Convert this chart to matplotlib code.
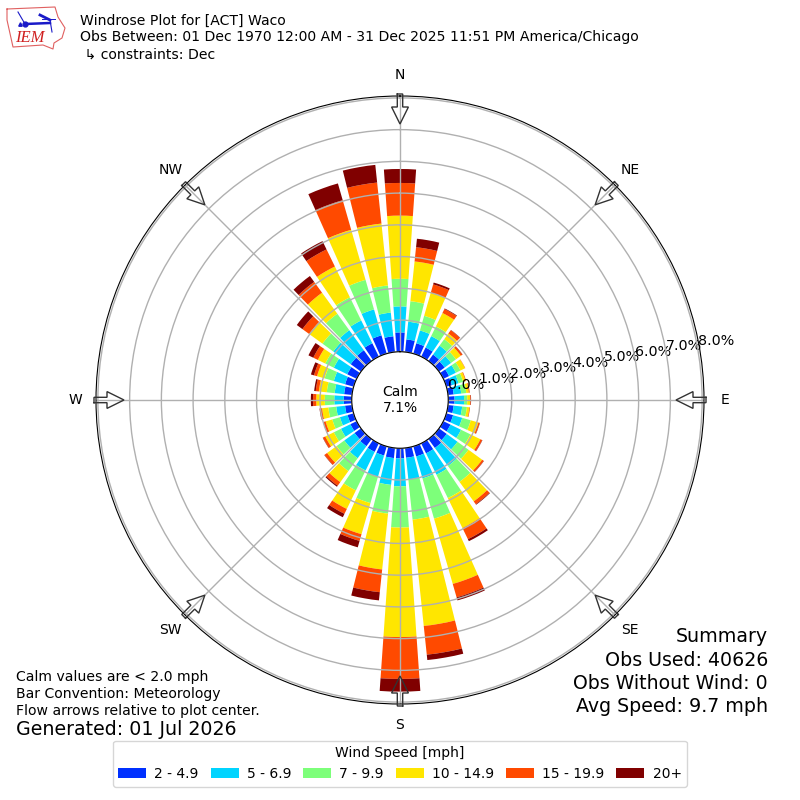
import numpy as np
import matplotlib
matplotlib.use('Agg')
import matplotlib.pyplot as plt

### direction bins, every 10 degrees starting at north
directions = np.arange(0, 360, 10)
dir_names = ['N', 'NE', 'E', 'SE', 'S', 'SW', 'W', 'NW']
dir_angles = [0, 45, 90, 135, 180, 225, 270, 315]

### percent of obs per speed bin
speed_labels = ['2 - 4.9', '5 - 6.9', '7 - 9.9', '10 - 14.9', '15 - 19.9', '20+']
speed_colors = ['#0030ff', '#00d4ff', '#7dff7a', '#ffe600', '#ff4a00', '#800000']

s2 = [.61, .40, .34, .32, .25, .22, .20, .18, .18, .20, .18, .22, .25, .30, .35, .35, .33, .31,
      .32, .32, .30, .30, .28, .25, .22, .20, .22, .25, .25, .28, .33, .40, .42, .47, .60, .50]
s5 = [.82, .56, .42, .40, .35, .25, .24, .22, .24, .30, .27, .30, .37, .42, .70, .75, .72, .69,
      .88, .85, .70, .65, .47, .40, .33, .25, .28, .30, .30, .37, .47, .68, .78, .80, .85, .75]
s7 = [.87, .65, .48, .34, .25, .19, .16, .15, .16, .10, .15, .28, .33, .43, .62, .82, 1.32, 1.27,
      1.30, .91, .86, .70, .50, .30, .25, .25, .25, .30, .25, .30, .30, .42, .64, .81, .97, .86]
s10 = [1.99, 1.26, .76, .47, .22, .19, .16, .08, .08, .09, .08, .25, .35, .53, .76, 1.05, 2.14, 3.37,
       3.45, 1.77, 1.02, .65, .43, .37, .30, .22, .20, .27, .25, .25, .26, .52, .82, 1.08, 1.64, 1.96]
s15 = [1.03, .45, .27, .14, .13, .06, .01, .02, .03, .02, .02, .04, .06, .06, .11, .39, .44, .91,
       1.32, .72, .22, .17, .14, .10, .08, .08, .07, .10, .10, .10, .16, .26, .42, .60, .97, 1.30]
s20 = [.44, .27, .06, .02, .01, .01, 0, 0, 0, .01, 0, .01, .01, .01, .02, .07, .10, .17,
       .40, .26, .21, .12, .04, .01, .01, 0, .01, .07, .05, .10, .17, .22, .23, .29, .55, .56]
speed_bins = [s2, s5, s7, s10, s15, s20]

r_ticks = [0, 1, 2, 3, 4, 5, 6, 7, 8]

### figure
fig = plt.figure(figsize=(8, 8), dpi=100)
ax = fig.add_axes([0.12, 0.12, 0.76, 0.76], projection='polar')
ax.set_theta_zero_location('N')
ax.set_theta_direction(-1)

theta = np.radians(directions)
bottom = np.zeros(len(directions))
for vals, col, lab in zip(speed_bins, speed_colors, speed_labels):
    ax.bar(theta, vals, width=np.radians(8), bottom=bottom, color=col, linewidth=0, label=lab)
    bottom += np.array(vals)

ax.set_rorigin(-1.52)
ax.set_rlim(0, 8.06)
ax.set_rticks(r_ticks)
ax.set_yticklabels(['%.1f%%' % r for r in r_ticks], fontsize=10.3)
ax.set_rlabel_position(80)
ax.set_thetagrids(dir_angles, dir_names, fontsize=10)
ax.tick_params(axis='x', pad=4.5)
ax.grid(True, color='#b0b0b0', lw=1)

ax.text(0.5, 0.5, 'Calm\n7.1%', transform=ax.transAxes, ha='center', va='center', fontsize=10)

### header
fig.text(0.1, 0.9745, 'Windrose Plot for [ACT] Waco', fontsize=10.1, va='center')
fig.text(0.1, 0.9535, 'Obs Between: 01 Dec 1970 12:00 AM - 31 Dec 2025 11:51 PM America/Chicago', fontsize=10.1, va='center')
fig.text(0.1, 0.932, ' \u21b3 constraints: Dec', fontsize=10.1, va='center')

### footer text
fig.text(0.02, 0.154, 'Calm values are < 2.0 mph', fontsize=10.1, va='center')
fig.text(0.02, 0.133, 'Bar Convention: Meteorology', fontsize=10.1, va='center')
fig.text(0.02, 0.111, 'Flow arrows relative to plot center.', fontsize=10.1, va='center')
fig.text(0.02, 0.088, 'Generated: 01 Jul 2026', fontsize=13.7, va='center')

fig.text(0.96, 0.205, 'Summary', fontsize=13.7, ha='right', va='center')
fig.text(0.96, 0.175, 'Obs Used: 40626', fontsize=13.7, ha='right', va='center')
fig.text(0.96, 0.146, 'Obs Without Wind: 0', fontsize=13.6, ha='right', va='center')
fig.text(0.96, 0.117, 'Avg Speed: 9.7 mph', fontsize=13.7, ha='right', va='center')

handles, labels = ax.get_legend_handles_labels()
fig.legend(handles, labels, title='Wind Speed [mph]', ncol=6, loc='lower center',
           bbox_to_anchor=(0.5, 0.008), fontsize=10, title_fontsize=10,
           handletextpad=0.6, columnspacing=0.86)

### overlay in pixel coords, for the flow arrows and the logo
lax = fig.add_axes([0, 0, 1, 1], zorder=5)
lax.set_xlim(0, 800)
lax.set_ylim(800, 0)
lax.axis('off')

# arrow outline: distance from center, offset across
arrow_r = np.array([306, 293, 293, 276, 293, 293, 306, 306])
arrow_w = np.array([-2.7, -2.7, -8.4, 0, 8.4, 2.7, 2.7, -2.7])
for ang in np.radians(dir_angles):
    px = 400 + arrow_r * np.sin(ang) + arrow_w * np.cos(ang)
    py = 400 - arrow_r * np.cos(ang) + arrow_w * np.sin(ang)
    lax.plot(px, py, color='#333333', lw=1, solid_joinstyle='miter')

iowa_x = [7, 55, 58, 65, 62, 54, 53, 43, 13, 7, 7]
iowa_y = [9, 7, 17, 28, 38, 43, 49, 45, 47, 20, 9]
lax.plot(iowa_x, iowa_y, color='#e06060', lw=0.8)
lax.plot([25, 50], [24, 23], color='#1a1ac8', lw=1.8)
lax.plot([40, 50], [15, 20], color='#1a1ac8', lw=2)
lax.plot([42, 55], [19, 19], color='#1a1ac8', lw=0.7)
lax.plot([18, 25], [12, 24], color='#1a1ac8', lw=0.8)
lax.plot([50, 52], [20, 32], color='#1a1ac8', lw=0.8)
lax.plot([25], [24], 'o', color='#1a1ac8', ms=3.5)
lax.plot([20], [24], '^', color='#1a1ac8', ms=2.5)
lax.text(30, 38, 'IEM', color='#d02020', fontsize=12, family='Liberation Serif', style='italic',
         ha='center', va='center')

plt.savefig('out.png', dpi=100)
